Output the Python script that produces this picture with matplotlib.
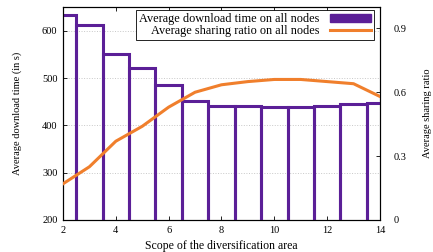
import numpy as np
import matplotlib
matplotlib.use('Agg')
import matplotlib.pyplot as plt
from matplotlib.patches import Patch
from matplotlib.lines import Line2D

plt.rcParams['font.family'] = ['Liberation Serif', 'DejaVu Serif']
plt.rcParams['font.size'] = 7.5

# data
scope = [2, 3, 4, 5, 6, 7, 8, 9, 10, 11, 12, 13, 14]
download_time = [634, 612, 550, 522, 485, 451, 440, 440, 439, 439, 440, 446, 448]
sharing_ratio = [0.17, 0.25, 0.37, 0.44, 0.53, 0.60, 0.635, 0.65, 0.66, 0.66, 0.65, 0.64, 0.58]

purple = '#5b1f97'
orange = '#f07f2c'

fig = plt.figure(figsize=(4.33, 2.52), dpi=100)
ax = fig.add_axes([0.1455, 0.127, 0.732, 0.845])

ax.bar(scope, download_time, width=1.0, fill=False, edgecolor=purple, linewidth=2.2, zorder=3)
ax.set_xlim(2, 14)
ax.set_ylim(200, 650)
ax.set_xticks([2, 4, 6, 8, 10, 12, 14])
ax.set_yticks([200, 300, 400, 500, 600])
ax.yaxis.grid(True, linestyle=':', color='#c8c8c8', linewidth=0.7)
ax.set_axisbelow(True)
ax.tick_params(direction='in', length=3, width=0.6, top=True, pad=4, labelsize=7.5)
ax.set_xlabel('Scope of the diversification area', fontsize=8.5)
ax.xaxis.set_label_coords(0.5, -0.092)
ax.set_ylabel('Average download time (in s)', fontsize=7.5)
ax.yaxis.set_label_coords(-0.13, 0.5)

ax2 = ax.twinx()
ax2.plot(scope, sharing_ratio, color=orange, linewidth=2.2, zorder=4)
ax2.set_ylim(0, 1.0)
ax2.set_yticks([0, 0.3, 0.6, 0.9])
ax2.set_yticklabels(['0', '0.3', '0.6', '0.9'])
ax2.tick_params(direction='in', length=3, width=0.6, pad=10, labelsize=7.5)
ax2.set_ylabel('Average sharing ratio', fontsize=7.5)
ax2.yaxis.set_label_coords(1.135, 0.5)

for a in (ax, ax2):
    for s in a.spines.values():
        s.set_linewidth(0.8)

handles = [Patch(facecolor=purple, edgecolor=purple),
           Line2D([], [], color=orange, linewidth=2.2)]
labels = ['Average download time on all nodes', 'Average sharing ratio on all nodes']
leg = ax2.legend(handles, labels, loc='upper right', bbox_to_anchor=(0.98, 0.985),
                 markerfirst=False, fancybox=False, framealpha=1, edgecolor='black',
                 fontsize=8.8, borderpad=0.25, labelspacing=0.0, handlelength=3.3,
                 handleheight=0.6, handletextpad=0.9, borderaxespad=0)
leg.get_frame().set_linewidth(0.6)
for t in leg.get_texts():
    t.set_ha('right')

fig.savefig('out.png', dpi=100)
